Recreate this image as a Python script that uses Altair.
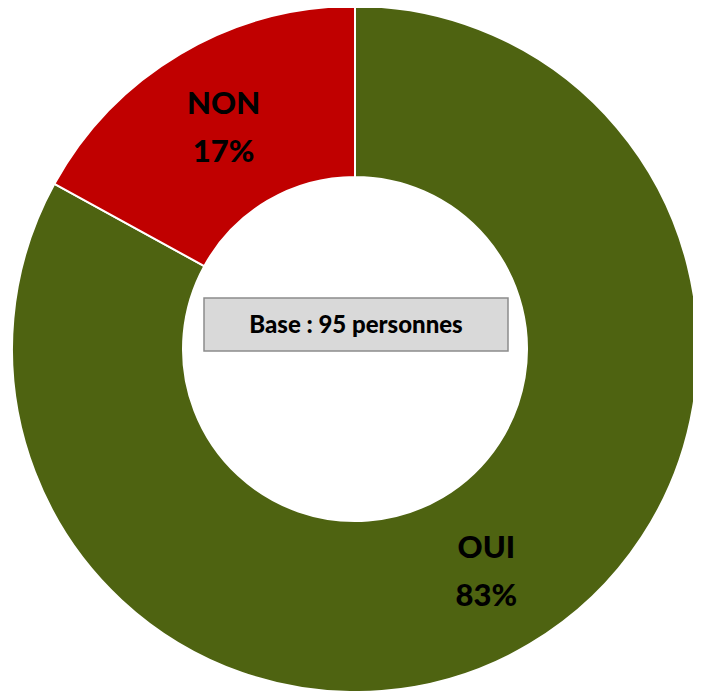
import altair as alt
import pandas as pd

categories = ["OUI", "NON"]
values = [83, 17]
labels = ["OUI\n83%", "NON\n17%"]
colors = ["#4E6311", "#C00000"]
base_text = ["Base : 95 personnes"]

df = pd.DataFrame({"cat": categories, "val": values, "label": labels,
                   "order": [0, 1]})

cx, cy = 347, 341

base = alt.Chart(df).encode(
    theta=alt.Theta("val:Q", stack=True),
    order=alt.Order("order:Q"),
    x=alt.value(cx),
    y=alt.value(cy),
)

arcs = base.mark_arc(outerRadius=343, innerRadius=172, stroke="white",
                     strokeWidth=2).encode(
    color=alt.Color("cat:N", scale=alt.Scale(domain=categories, range=colors),
                    legend=None)
)

text = base.mark_text(radius=258, font="Lato", fontSize=31, fontWeight=900,
                      color="black", lineBreak="\n", lineHeight=48, dy=-22,
                      align="center", baseline="middle").encode(
    text="label:N"
)

box_df = pd.DataFrame({"t": base_text})
box = alt.Chart(box_df).mark_rect(fill="#D9D9D9", stroke="#8C8C8C",
                                  strokeWidth=1.5).encode(
    x=alt.value(196), x2=alt.value(500), y=alt.value(290), y2=alt.value(343)
)
box_text = alt.Chart(box_df).mark_text(font="Lato", fontSize=24,
                                       fontWeight=900, color="black",
                                       align="center", baseline="middle").encode(
    text="t:N", x=alt.value(348), y=alt.value(318)
)

chart = (arcs + text + box + box_text).properties(
    width=685, height=683, padding=0, autosize=alt.AutoSizeParams(type="none")
).configure_view(stroke=None)

chart.save("out.html", embed_options={"renderer": "svg", "actions": False})
